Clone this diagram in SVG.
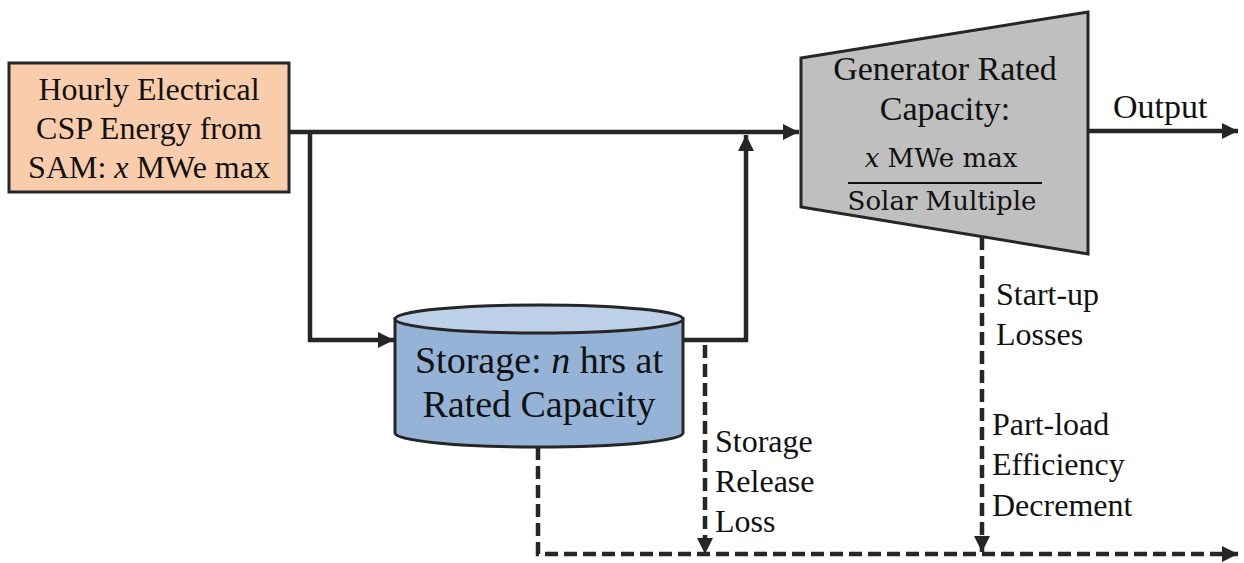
<svg xmlns="http://www.w3.org/2000/svg" width="1244" height="563" viewBox="0 0 1244 563">
<style>
.t{font-family:"Liberation Serif","Times New Roman",serif;fill:#111}
.m{font-family:"DejaVu Serif",Cambria,serif;fill:#111}
.ln{fill:none;stroke:#262626;stroke-width:4.5}
.ds{fill:none;stroke:#262626;stroke-width:4.5;stroke-dasharray:13 6}
.box{stroke:#262626;stroke-width:3}
</style>
<defs>
<marker id="ah" viewBox="0 0 10 10" refX="10" refY="5" markerWidth="3.6" markerHeight="3.6" markerUnits="strokeWidth" orient="auto">
<path d="M0,0 L10,5 L0,10 Z" fill="#262626"/>
</marker>
</defs>
<rect width="1244" height="563" fill="#fff"/>
<g id="connectors">
<line class="ln" x1="289" y1="132" x2="799" y2="132" marker-end="url(#ah)"/>
<polyline class="ln" points="310,132 310,340 394,340" marker-end="url(#ah)"/>
<polyline class="ln" points="683,340 746,340 746,135" marker-end="url(#ah)"/>
<line class="ln" x1="1088" y1="131" x2="1238" y2="131" marker-end="url(#ah)"/>
<line class="ds" x1="705" y1="345" x2="705" y2="554" marker-end="url(#ah)"/>
<line class="ds" x1="982" y1="237" x2="982" y2="552" marker-end="url(#ah)"/>
<polyline class="ds" points="538,447 538,554 1238,554" marker-end="url(#ah)"/>
</g>
<g id="source">
<rect class="box" x="9" y="63" width="280" height="129" fill="#F9CDAC"/>
<text class="t" font-size="32" text-anchor="middle"><tspan x="149" y="100">Hourly Electrical</tspan><tspan x="149" y="139">CSP Energy from</tspan><tspan x="149" y="178">SAM: <tspan font-style="italic">x</tspan> MWe max</tspan></text>
</g>
<g id="storage">
<path class="box" d="M395,319 L395,433 A144,14 0 0 0 683,433 L683,319 Z" fill="#95B3D7"/>
<ellipse class="box" cx="539" cy="319" rx="144" ry="14" fill="#BCD0E8"/>
<text class="t" font-size="38" text-anchor="middle"><tspan x="539" y="373">Storage: <tspan font-style="italic">n</tspan> hrs at</tspan><tspan x="539" y="417">Rated Capacity</tspan></text>
</g>
<g id="generator">
<polygon class="box" points="801,58 1088,12 1088,254 801,207" fill="#BFBFBF"/>
<text class="t" font-size="34" text-anchor="middle"><tspan x="945" y="80">Generator Rated</tspan><tspan x="945" y="120">Capacity:</tspan></text>
<text class="m" font-size="26" text-anchor="middle" x="941" y="167"><tspan font-style="italic">x</tspan> MWe max</text>
<line x1="848" y1="183" x2="1042" y2="183" stroke="#111" stroke-width="2"/>
<text class="m" font-size="26" text-anchor="middle" x="942" y="210">Solar Multiple</text>
</g>
<g id="labels">
<text class="t" font-size="34" x="1113" y="118">Output</text>
<text class="t" font-size="32"><tspan x="996" y="305">Start-up</tspan><tspan x="996" y="345">Losses</tspan></text>
<text class="t" font-size="32"><tspan x="992" y="435">Part-load</tspan><tspan x="992" y="475">Efficiency</tspan><tspan x="992" y="516">Decrement</tspan></text>
<text class="t" font-size="32"><tspan x="715" y="452">Storage</tspan><tspan x="715" y="492">Release</tspan><tspan x="715" y="532">Loss</tspan></text>
</g>
</svg>
